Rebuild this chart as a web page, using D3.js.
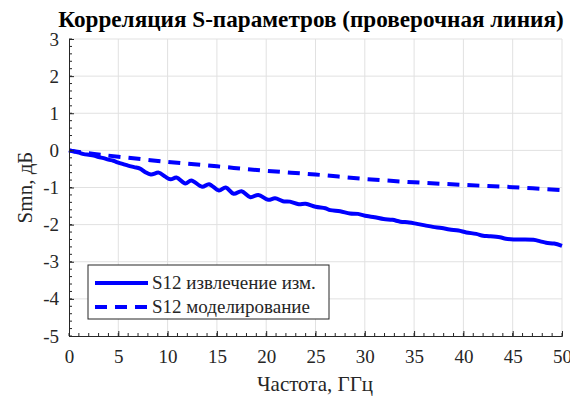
<!DOCTYPE html>
<html>
<head>
<meta charset="utf-8">
<script src="https://cdn.jsdelivr.net/npm/d3@7"></script>
<style>
    body { margin: 0; background: #fff; }
    svg text { font-family: "Liberation Serif", "Times New Roman", serif; fill: #262626; }
</style>
</head>
<body>
<script>
// S12 extracted from measurement, GHz / dB
var measF = [0, 0.5, 1, 1.5, 2, 2.5, 3, 3.5, 4, 4.5, 5, 5.5, 6, 6.6, 7.2, 7.7, 8.3, 9.1, 9.7, 10.3,
    10.9, 11.8, 12.4, 13.5, 14.2, 15.2, 15.9, 16.7, 17.5, 18.4, 19.2, 20.2, 20.9, 21.7, 22.4, 23.3,
    24.0, 25.0, 26.0, 26.5, 27.5, 28.5, 29.3, 30.2, 31.0, 31.9, 32.8, 33.6, 34.5, 35.3, 36.1, 36.9,
    37.8, 38.6, 39.5, 40.3, 41.3, 42.0, 42.6, 43.7, 44.3, 45.1, 46.0, 47.1, 47.8, 48.4, 49.2, 50.0];
var measV = [0, -0.03, -0.06, -0.10, -0.12, -0.14, -0.18, -0.21, -0.25, -0.28, -0.33, -0.37, -0.41, -0.45, -0.49, -0.58, -0.65, -0.60, -0.70, -0.78,
    -0.73, -0.89, -0.81, -0.98, -0.91, -1.08, -1.00, -1.17, -1.10, -1.26, -1.20, -1.33, -1.29, -1.37, -1.38, -1.45,
    -1.44, -1.52, -1.56, -1.61, -1.64, -1.70, -1.71, -1.77, -1.80, -1.85, -1.87, -1.92, -1.94, -1.98, -2.02, -2.06,
    -2.09, -2.13, -2.16, -2.21, -2.25, -2.30, -2.31, -2.34, -2.38, -2.40, -2.40, -2.41, -2.45, -2.49, -2.51, -2.57];

// S12 simulation
var simF = [0, 2, 5, 10, 15, 20, 25, 30, 35, 40, 45, 50];
var simV = [0, -0.08, -0.17, -0.31, -0.43, -0.55, -0.65, -0.77, -0.86, -0.93, -0.99, -1.07];

var xTicks = [0, 5, 10, 15, 20, 25, 30, 35, 40, 45, 50];
var yTicks = [3, 2, 1, 0, -1, -2, -3, -4, -5];
var legendLabels = ["S12 извлечение изм.", "S12 моделирование"];

var _width = 570, _height = 398,
    _margins = {top: 39, left: 69, right: 8, bottom: 62},
    _color = "#0000ff",
    _font = "'Liberation Serif', 'Times New Roman', serif";

var svg = d3.select("body").append("svg")
    .attr("width", _width)
    .attr("height", _height);

var w = _width - _margins.left - _margins.right,
    h = _height - _margins.top - _margins.bottom;

var x = d3.scaleLinear().domain([0, 50]).range([0, w]);
var y = d3.scaleLinear().domain([-5, 3]).range([h, 0]);

var g = svg.append("g")
    .attr("transform", "translate(" + _margins.left + "," + _margins.top + ")");

// grid
g.append("g").selectAll("line.vg")
    .data(xTicks.slice(1)).enter().append("line")
    .attr("x1", x).attr("x2", x).attr("y1", 0).attr("y2", h)
    .attr("stroke", "#e1e1e1").attr("stroke-width", 1);
g.append("g").selectAll("line.hg")
    .data(yTicks.slice(0, -1)).enter().append("line")
    .attr("y1", y).attr("y2", y).attr("x1", 0).attr("x2", w)
    .attr("stroke", "#e1e1e1").attr("stroke-width", 1);

// lines
var line = function (fs, vs) {
    return d3.line()
        .x(function (d) { return x(d); })
        .y(function (d, i) { return y(vs[i]); })
        .curve(d3.curveCatmullRom)(fs);
};

g.append("path")
    .attr("d", line(simF, simV))
    .attr("fill", "none")
    .attr("stroke", _color)
    .attr("stroke-width", 4)
    .attr("stroke-dasharray", "12,8");

g.append("path")
    .attr("d", line(measF, measV))
    .attr("fill", "none")
    .attr("stroke", _color)
    .attr("stroke-width", 4)
    .attr("stroke-linejoin", "round");

// axes, ticks inward
var fmt = function (d) { return String(d); };

var xAxis = g.append("g")
    .attr("transform", "translate(0," + h + ")")
    .call(d3.axisBottom(x).tickValues(xTicks).tickSize(-5).tickPadding(14).tickFormat(fmt));
xAxis.append("g").selectAll("line")
    .data(d3.range(0, 51, 1)).enter().append("line")
    .attr("x1", x).attr("x2", x).attr("y1", 0).attr("y2", -3)
    .attr("stroke", "#262626");

var yAxis = g.append("g")
    .call(d3.axisLeft(y).tickValues(yTicks).tickSize(-5).tickPadding(10).tickFormat(fmt));
yAxis.append("g").selectAll("line")
    .data(d3.range(-25, 16).map(function (d) { return d / 5; })).enter().append("line")
    .attr("y1", y).attr("y2", y).attr("x1", 0).attr("x2", 3)
    .attr("stroke", "#262626");

[xAxis, yAxis].forEach(function (a) {
    a.attr("font-family", _font).attr("font-size", 19);
    a.select(".domain").attr("stroke", "#262626");
    a.selectAll(".tick line").attr("stroke", "#262626");
    a.selectAll(".tick text")
        .style("font-family", _font)
        .style("font-size", "19px")
        .style("fill", "#262626");
});

// labels
svg.append("text")
    .attr("x", 311).attr("y", 27)
    .attr("text-anchor", "middle")
    .attr("font-size", 23.2)
    .attr("font-weight", "bold")
    .style("fill", "#000")
    .text("Корреляция S-параметров (проверочная линия)");

svg.append("text")
    .attr("x", 315).attr("y", 391)
    .attr("text-anchor", "middle")
    .attr("font-size", 21)
    .text("Частота, ГГц");

svg.append("text")
    .attr("transform", "translate(32," + (_margins.top + h / 2) + ") rotate(-90)")
    .attr("text-anchor", "middle")
    .attr("font-size", 21)
    .text("Smn, дБ");

// legend
var lg = svg.append("g").attr("transform", "translate(88,265)");
lg.append("rect")
    .attr("width", 241).attr("height", 54)
    .attr("fill", "#fff").attr("stroke", "#262626").attr("stroke-width", 1);
var row = lg.selectAll("g.row").data(legendLabels).enter().append("g")
    .attr("transform", function (d, i) { return "translate(0," + (18 + i * 24) + ")"; });
row.append("line")
    .attr("x1", 7).attr("x2", 60).attr("y1", 0).attr("y2", 0)
    .attr("stroke", _color).attr("stroke-width", 4)
    .attr("stroke-dasharray", function (d, i) { return i ? "12,8" : null; });
row.append("text")
    .attr("x", 64).attr("y", 6)
    .attr("font-size", 19)
    .text(function (d) { return d; });
</script>
</body>
</html>
